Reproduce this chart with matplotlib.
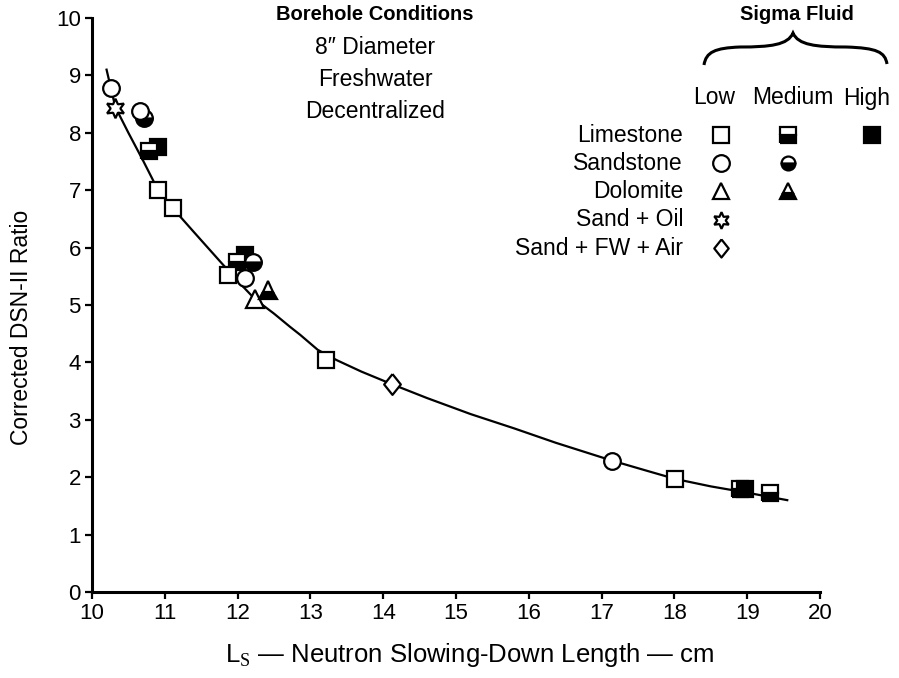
import numpy as np
import matplotlib
matplotlib.use("Agg")
import matplotlib.pyplot as plt
from matplotlib.path import Path
from matplotlib.patches import PathPatch

plt.rcParams['font.family'] = ['Liberation Sans', 'DejaVu Sans']
plt.rcParams['mathtext.fontset'] = 'custom'
plt.rcParams['mathtext.rm'] = 'Liberation Serif'

# fitted curve
curve_x = [10.2, 10.32, 10.5, 10.7, 10.9, 11.1, 11.4, 11.78, 12.0, 12.24, 12.5, 12.72,
           12.86, 13.1, 13.36, 13.7, 14.12, 14.6, 15.2, 15.8, 16.37, 17.14, 17.6,
           18.01, 18.5, 19.0, 19.55]
curve_y = [9.1, 8.45, 8.0, 7.52, 7.02, 6.7, 6.27, 5.73, 5.42, 5.1, 4.85, 4.62,
           4.48, 4.22, 4.04, 3.84, 3.62, 3.38, 3.1, 2.85, 2.6, 2.29, 2.12,
           1.97, 1.84, 1.73, 1.6]

# measured points
limestone_low_x = [10.91, 11.11, 11.87, 13.22, 18.01]
limestone_low_y = [7.0, 6.69, 5.52, 4.05, 1.96]
limestone_med_x = [10.78, 11.99, 18.90, 19.31]
limestone_med_y = [7.68, 5.75, 1.79, 1.73]
limestone_high_x = [10.91, 12.10, 18.97]
limestone_high_y = [7.76, 5.87, 1.79]
sandstone_low_x = [10.26, 10.66, 12.10, 17.14]
sandstone_low_y = [8.78, 8.38, 5.47, 2.29]
sandstone_med_x = [10.72, 12.21]
sandstone_med_y = [8.25, 5.75]
dolomite_low_x = [12.24]
dolomite_low_y = [5.10]
dolomite_med_x = [12.42]
dolomite_med_y = [5.26]
sand_oil_x = [10.32]
sand_oil_y = [8.44]
sand_fw_air_x = [14.12]
sand_fw_air_y = [3.62]

rock_names = ['Limestone', 'Sandstone', 'Dolomite', 'Sand + Oil', 'Sand + FW + Air']
fluid_names = ['Low', 'Medium', 'High']
borehole_lines = ['8\u2033 Diameter', 'Freshwater', 'Decentralized']

W, H = 899, 678
fig = plt.figure(figsize=(W / 100, H / 100), dpi=100)
ax = fig.add_axes([92 / W, 86 / H, 728 / W, 574 / H])


def fx(px):
    return px / W


def fy(py):
    return 1 - py / H


STAR = (6, 1, 0)
DIAMOND = [(0, 1), (0.8, 0), (0, -1), (-0.8, 0), (0, 1)]
open_kw = dict(linestyle='none', markerfacecolor='white', markeredgecolor='black', markeredgewidth=1.6)
full_kw = dict(linestyle='none', markerfacecolor='black', markeredgecolor='black', markeredgewidth=1.6)
half_kw = dict(linestyle='none', markerfacecolor='black', markerfacecoloralt='white',
               fillstyle='bottom', markeredgecolor='black', markeredgewidth=1.6)

ax.plot(curve_x, curve_y, color='black', lw=1.6, zorder=2)

ax.plot(limestone_high_x[:-1], limestone_high_y[:-1], marker='s', markersize=12, zorder=3, **full_kw)
ax.plot(limestone_med_x, limestone_med_y, marker='s', markersize=12, zorder=4, **half_kw)
ax.plot(limestone_high_x[-1:], limestone_high_y[-1:], marker='s', markersize=12, zorder=5, **full_kw)
ax.plot(sandstone_med_x, sandstone_med_y, marker='o', markersize=12, zorder=5, **half_kw)
ax.plot(limestone_low_x, limestone_low_y, marker='s', markersize=12, zorder=6, **open_kw)
ax.plot(sandstone_low_x, sandstone_low_y, marker='o', markersize=12, zorder=7, **open_kw)
ax.plot(dolomite_low_x, dolomite_low_y, marker='^', markersize=13, zorder=7, **open_kw)
ax.plot(dolomite_med_x, dolomite_med_y, marker='^', markersize=13, zorder=7, **half_kw)
ax.plot(sand_oil_x, sand_oil_y, marker=STAR, markersize=14, zorder=7, **open_kw)
ax.plot(sand_fw_air_x, sand_fw_air_y, marker=DIAMOND, markersize=15, zorder=7, **open_kw)

ax.set_xlim(10, 20)
ax.set_ylim(0, 10)
ax.set_xticks(range(10, 21))
ax.set_yticks(range(0, 11))
for s in ['top', 'right']:
    ax.spines[s].set_visible(False)
for s in ['left', 'bottom']:
    ax.spines[s].set_linewidth(2.2)
ax.tick_params(direction='out', length=5, width=1.6, labelsize=16, pad=3)

fig.text(fx(22), fy(327), 'Corrected DSN-II Ratio', rotation=90, ha='center', va='center', fontsize=16.5)
fig.text(fx(470), fy(655), 'L$_\\mathrm{S}$ \u2014 Neutron Slowing-Down Length \u2014 cm',
         ha='center', va='center', fontsize=18.5)

# borehole conditions block
fig.text(fx(375), fy(15), 'Borehole Conditions', ha='center', va='center', fontsize=14.5, fontweight='bold')
for i, t in enumerate(borehole_lines):
    fig.text(fx(375), fy(48 + 32 * i), t, ha='center', va='center', fontsize=16.5)

# sigma fluid legend
fig.text(fx(797), fy(15), 'Sigma Fluid', ha='center', va='center', fontsize=14.5, fontweight='bold')
brace = Path([(704, 65), (706, 52), (715, 48), (740, 47), (770, 47), (788, 45), (793, 33),
              (798, 45), (816, 47), (846, 47), (877, 48), (885, 52), (887, 64)],
             [Path.MOVETO, Path.CURVE4, Path.CURVE4, Path.CURVE4, Path.CURVE4, Path.CURVE4, Path.CURVE4,
              Path.CURVE4, Path.CURVE4, Path.CURVE4, Path.CURVE4, Path.CURVE4, Path.CURVE4])
brace = Path([(fx(x), fy(y)) for x, y in brace.vertices], brace.codes)
fig.add_artist(PathPatch(brace, transform=fig.transFigure, fill=False, lw=2.2, edgecolor='black'))

col_x = [714, 793, 867]
for name, cx in zip(fluid_names, col_x):
    fig.text(fx(cx), fy(98), name, ha='center', va='center', fontsize=16.5)

row_y = [135, 163, 191, 220, 248]
for name, ry in zip(rock_names, row_y):
    fig.text(fx(683), fy(ry), name, ha='right', va='center', fontsize=16.5)

leg = [
    (721, 135, 's', 11, open_kw), (788, 135, 's', 11, half_kw), (872, 135, 's', 11, full_kw),
    (721, 163, 'o', 12, open_kw), (788, 163, 'o', 10, half_kw),
    (721, 191, '^', 12, open_kw), (788, 191, '^', 12, half_kw),
    (721, 220, STAR, 12, open_kw),
    (721, 248, DIAMOND, 13, open_kw),
]
for lx, ly, m, ms, kw in leg:
    ax.plot([fx(lx)], [fy(ly)], marker=m, markersize=ms, transform=fig.transFigure, clip_on=False, **kw)

fig.savefig('out.png', dpi=100)
